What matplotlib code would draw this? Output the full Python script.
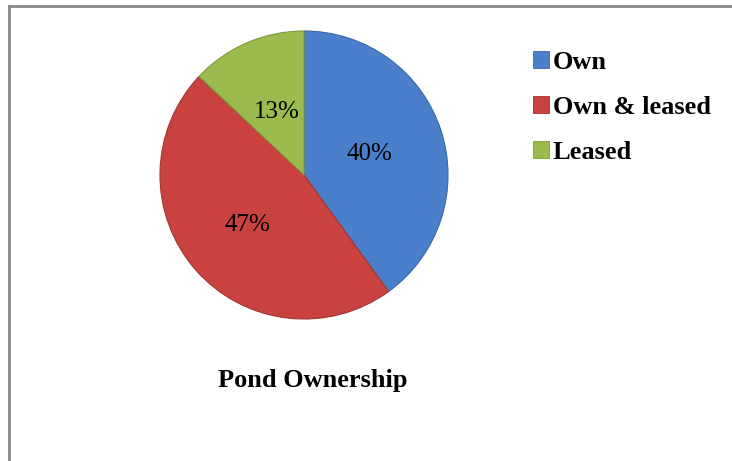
import numpy as np
import matplotlib.pyplot as plt
from matplotlib.patches import Patch
from matplotlib.lines import Line2D

labels = ['Own', 'Own & leased', 'Leased']
values = [40, 47, 13]
colors = ['#4a7fcc', '#c9423f', '#9bbb4f']
edges = ['#3a66a6', '#a23431', '#7d9a3c']
label_dist = [0.48, 0.52, 0.48]

plt.rcParams['font.family'] = ['Liberation Serif', 'DejaVu Serif']

fig = plt.figure(figsize=(7.32, 4.61), dpi=100)

# only top and left border, as in the original
fig.add_artist(Line2D([8.5 / 732, 8.5 / 732], [0, 1 - 6.5 / 461], color='#888888', lw=2))
fig.add_artist(Line2D([8.5 / 732, 1], [1 - 6.5 / 461, 1 - 6.5 / 461], color='#888888', lw=2))

ax = fig.add_axes([160 / 732, 1 - 319 / 461, 288 / 732, 288 / 461])
wedges, texts, autotexts = ax.pie(values, colors=colors, startangle=90, counterclock=False,
                                  autopct='%d%%', wedgeprops=dict(linewidth=0.8),
                                  textprops=dict(fontsize=18, color='black'))
for w, e, t, d in zip(wedges, edges, autotexts, label_dist):
    w.set_edgecolor(e)
    mid = np.deg2rad((w.theta1 + w.theta2) / 2)
    t.set_position((d * np.cos(mid), d * np.sin(mid)))
ax.set_xlim(-1, 1)
ax.set_ylim(-1, 1)
ax.set_aspect('equal')

handles = [Patch(facecolor=c, edgecolor=e, linewidth=0.6) for c, e in zip(colors, edges)]
leg = fig.legend(handles, labels, loc='upper left', bbox_to_anchor=(533 / 732, 1 - 51 / 461),
                 frameon=False, prop=dict(weight='bold', size=19),
                 handlelength=0.6, handleheight=0.6, handletextpad=0.15, labelspacing=0.83,
                 borderaxespad=0, borderpad=0)

fig.text(313 / 732, 1 - 381 / 461, 'Pond Ownership', ha='center', va='center',
         fontsize=19, fontweight='bold')

fig.savefig('out.png', dpi=100)
